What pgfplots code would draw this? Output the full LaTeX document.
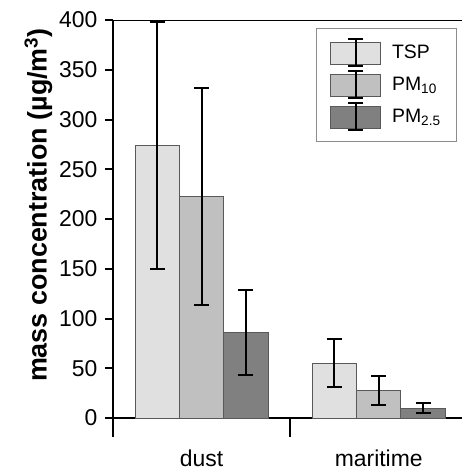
\documentclass[border=0pt]{standalone}
\usepackage{pgfplots}
\pgfplotsset{compat=1.18}
\usepackage{fontspec}
\setmainfont{Liberation Sans}
\definecolor{tsp}{RGB}{224,224,224}
\definecolor{pmten}{RGB}{192,192,192}
\definecolor{pmtwo}{RGB}{128,128,128}
\begin{document}
\begin{tikzpicture}
\path (-113bp,-52bp) rectangle (349bp,418bp);
\begin{axis}[
  at={(0,0)}, anchor=south west,
  scale only axis, width=349bp, height=398bp,
  xmin=0, xmax=1.97, ymin=0, ymax=400,
  axis x line=bottom, axis y line=left,
  axis line style={-, line width=2.5bp},
  ytick={0,50,...,400},
  tick style={black, line width=2bp},
  tick align=outside,
  major tick length=8bp,
  minor tick length=19bp,
  xtick={0.5,1.5}, xticklabels={dust,maritime},
  minor xtick={0,1,2},
  major x tick style={draw=none},
  xticklabel style={yshift=-20bp},
  yticklabel style={xshift=-4bp},
  ticklabel style={font=\fontsize{23}{27}\selectfont},
  /pgf/number format/assume math mode=true,
  ylabel={\textbf{mass concentration (µg/m\textsuperscript{3})}},
  ylabel style={font=\fontsize{27}{30}\selectfont, at={(ticklabel cs:0.535)}, yshift=0bp},
  ybar, bar width=0.25, bar shift=0pt,
  legend style={at={(1,1)}, anchor=north east, xshift=-5bp, yshift=-8bp,
    draw=gray!90, line width=0.8bp, font=\fontsize{19.5}{23}\selectfont,
    row sep=3bp, inner xsep=14bp, inner ysep=10bp,
    /tikz/every odd column/.append style={column sep=9bp}},
  legend cell align=left,
  legend image code/.code={
    \draw[#1, draw=black!65, line width=0.8bp] (0bp,-11bp) rectangle (50bp,11bp);
    \draw[black, line width=2bp] (25bp,-13.5bp) -- (25bp,13.5bp)
      (17.5bp,13.5bp) -- (32.5bp,13.5bp) (17.5bp,-13.5bp) -- (32.5bp,-13.5bp);
  },
  every axis plot/.append style={draw=black!65, line width=0.8bp,
    error bars/y dir=both, error bars/y explicit,
    error bars/error bar style={black, line width=2bp},
    error bars/error mark options={rotate=90, mark size=7.5bp, line width=2bp, black}},
]
\addplot[fill=tsp] table[x=x, y=y, y error=e] {
x y e
0.25 274 124
1.25 55 24
};
\addlegendentry{TSP}
\addplot[fill=pmten] table[x=x, y=y, y error=e] {
x y e
0.5 223 109
1.5 28 14.5
};
\addlegendentry{PM\textsubscript{10}}
\addplot[fill=pmtwo] table[x=x, y=y, y error=e] {
x y e
0.75 86 43
1.75 10 5
};
\addlegendentry{PM\textsubscript{2.5}}
\draw[line width=2.5bp] (rel axis cs:0,1) -- (rel axis cs:1,1);
\end{axis}
\end{tikzpicture}
\end{document}
